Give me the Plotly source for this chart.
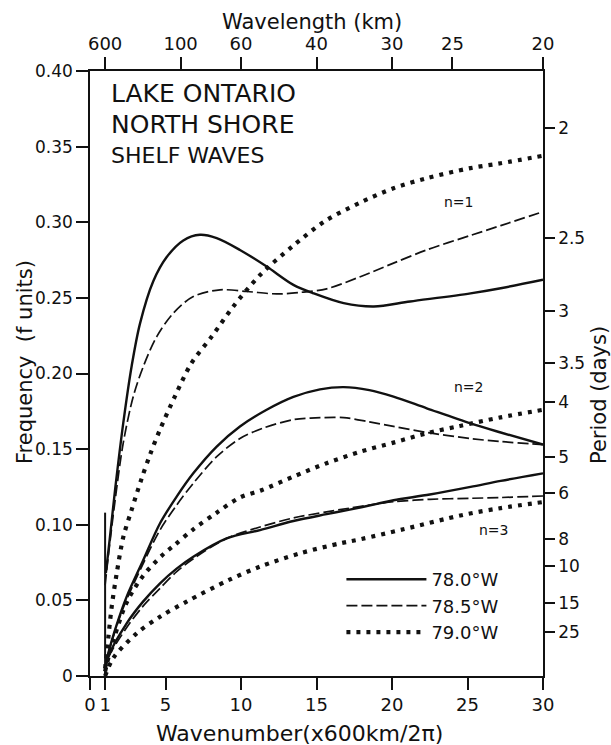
import plotly.graph_objects as go

# ---- dispersion curves: wavenumber (x600 km / 2pi) vs frequency (f units) ----
# mode n = 1
k_n1_780 = [1.05, 1.3, 1.66, 2.2, 2.76, 3.31, 4.19, 5.08, 6.18, 7.28, 8.39, 9.93, 11.7, 13.47, 14.8, 16.8, 18.8, 21.2, 25.2, 27.2, 30]
f_n1_780 = [0.068, 0.09, 0.123, 0.167, 0.205, 0.233, 0.261, 0.277, 0.288, 0.2917, 0.2895, 0.2817, 0.2707, 0.2586, 0.2530, 0.2465, 0.2443, 0.2476, 0.2530, 0.2564, 0.262]
k_n1_785 = [1.0, 1.21, 1.66, 2.2, 2.87, 3.53, 4.42, 5.52, 6.84, 8.61, 10.4, 12.36, 13.9, 15.67, 17.9, 20.1, 22.3, 25.2, 27.2, 30]
f_n1_785 = [0.06, 0.079, 0.116, 0.154, 0.185, 0.2046, 0.2244, 0.2399, 0.2509, 0.2553, 0.2542, 0.2526, 0.2536, 0.2560, 0.264, 0.273, 0.2817, 0.2913, 0.2978, 0.307]
k_n1_790 = [1.0, 1.21, 1.44, 1.77, 2.21, 2.76, 3.4, 4.0, 4.64, 5.63, 6.73, 8.06, 9.49, 11.3, 13.4, 15.6, 17.9, 20.1, 22.3, 25.2, 27.2, 30]
f_n1_790 = [0.005, 0.025, 0.046, 0.068, 0.092, 0.110, 0.130, 0.147, 0.163, 0.185, 0.207, 0.2244, 0.2443, 0.2655, 0.284, 0.301, 0.313, 0.3225, 0.3291, 0.3358, 0.339, 0.344]

# mode n = 2
k_n2_780 = [1.0, 1.21, 1.77, 2.43, 3.53, 4.64, 5.74, 6.84, 8.39, 9.93, 11.7, 13.47, 15.23, 16.8, 18.5, 20.1, 22.3, 25.2, 27.2, 30]
f_n2_780 = [0.005, 0.015, 0.034, 0.0525, 0.0767, 0.101, 0.1186, 0.134, 0.1517, 0.165, 0.176, 0.1845, 0.1895, 0.191, 0.189, 0.1847, 0.177, 0.167, 0.161, 0.153]
k_n2_785 = [1.0, 1.21, 2.2, 3.53, 4.64, 5.74, 6.84, 8.39, 9.93, 11.5, 13.47, 14.6, 16.8, 18.5, 20.1, 22.3, 25.2, 27.2, 30]
f_n2_785 = [0.005, 0.015, 0.045, 0.0745, 0.0966, 0.113, 0.1274, 0.145, 0.157, 0.164, 0.1695, 0.1705, 0.1708, 0.168, 0.165, 0.161, 0.157, 0.155, 0.153]
k_n2_790 = [1.0, 1.3, 2.4, 3.5, 4.8, 5.6, 6.84, 8.39, 9.93, 11.4, 13.46, 15.67, 17.9, 20.1, 22.3, 24.5, 27.2, 30]
f_n2_790 = [0.003, 0.015, 0.048, 0.066, 0.080, 0.0866, 0.097, 0.108, 0.118, 0.123, 0.1318, 0.1407, 0.1483, 0.1543, 0.1605, 0.1653, 0.171, 0.176]

# mode n = 3
k_n3_780 = [1.0, 1.21, 2.43, 3.5, 4.64, 5.74, 6.84, 9.05, 11.26, 13.47, 15.67, 17.2, 19.0, 20.1, 22.5, 25.2, 27.2, 30]
f_n3_780 = [0.003, 0.0128, 0.0348, 0.049, 0.0613, 0.071, 0.0789, 0.091, 0.0965, 0.1025, 0.107, 0.110, 0.1138, 0.1162, 0.120, 0.125, 0.129, 0.134]
k_n3_785 = [1.0, 1.21, 2.43, 3.5, 4.64, 5.74, 6.84, 9.05, 11.26, 13.47, 15.67, 17.2, 19.0, 20.1, 22.5, 25.2, 27.2, 30]
f_n3_785 = [0.003, 0.012, 0.032, 0.046, 0.058, 0.069, 0.0775, 0.091, 0.0985, 0.1045, 0.1085, 0.111, 0.1138, 0.1152, 0.1168, 0.1175, 0.118, 0.119]
k_n3_790 = [1.0, 1.55, 3.09, 4.64, 6.4, 9.2, 11.26, 13.9, 16.56, 17.9, 20.75, 24.7, 27.2, 30]
f_n3_790 = [0.0, 0.012, 0.0282, 0.0392, 0.0492, 0.0635, 0.0723, 0.0811, 0.0877, 0.0904, 0.097, 0.1065, 0.111, 0.115]

# short vertical segment at the first wavenumber
k_stub = [1.0, 1.0]
f_stub = [0.0, 0.108]

# axis ticks
x_ticks = [0, 1, 5, 10, 15, 20, 25, 30]
y_ticks = [0, 0.05, 0.10, 0.15, 0.20, 0.25, 0.30, 0.35, 0.40]
y_tick_text = ["0", "0.05", "0.10", "0.15", "0.20", "0.25", "0.30", "0.35", "0.40"]
wavelength_km = [600, 100, 60, 40, 30, 25, 20]
period_days = [2, 2.5, 3, 3.5, 4, 5, 6, 8, 10, 15, 25]
INERTIAL_PERIOD_DAYS = 0.7243  # 2*pi/f at Lake Ontario latitude

series_labels = ["78.0\u00b0W", "78.5\u00b0W", "79.0\u00b0W"]
mode_labels = ["n=1", "n=2", "n=3"]

FONT = "DejaVu Sans, Verdana, sans-serif"
INK = "#111111"

styles = [
    dict(color=INK, width=2.4, dash="solid"),
    dict(color=INK, width=1.7, dash="11px,4px"),
    dict(color=INK, width=4.2, dash="4px,6px"),
]

curves = [
    [(k_n1_780, f_n1_780), (k_n1_785, f_n1_785), (k_n1_790, f_n1_790)],
    [(k_n2_780, f_n2_780), (k_n2_785, f_n2_785), (k_n2_790, f_n2_790)],
    [(k_n3_780, f_n3_780), (k_n3_785, f_n3_785), (k_n3_790, f_n3_790)],
]

fig = go.Figure()

for mode_idx, mode_curves in enumerate(curves):
    for s_idx, (kk, ff) in enumerate(mode_curves):
        fig.add_trace(go.Scatter(
            x=kk, y=ff, mode="lines",
            line=dict(shape="spline", smoothing=0.9, **styles[s_idx]),
            name=series_labels[s_idx],
            legendgroup=series_labels[s_idx],
            showlegend=(mode_idx == 0),
            hoverinfo="skip",
        ))

fig.add_trace(go.Scatter(x=k_stub, y=f_stub, mode="lines",
                         line=dict(color=INK, width=2.0),
                         showlegend=False, hoverinfo="skip"))

# secondary axes (wavelength on top, period on the right)
fig.add_trace(go.Scatter(x=[0, 30], y=[0, 0.4], xaxis="x2", yaxis="y2",
                         mode="markers", marker=dict(opacity=0),
                         showlegend=False, hoverinfo="skip"))

axis_common = dict(showgrid=False, zeroline=False, showline=True, linecolor=INK,
                   linewidth=1.5, ticks="outside", tickcolor=INK, tickwidth=1.5,
                   ticklen=12)

fig.update_layout(
    width=611, height=745,
    margin=dict(l=90, r=68, t=71, b=69),
    paper_bgcolor="white", plot_bgcolor="white",
    font=dict(family=FONT, color=INK),
    xaxis=dict(range=[0, 30], tickvals=x_ticks, ticktext=[str(v) for v in x_ticks],
               tickfont=dict(size=18), **axis_common),
    yaxis=dict(range=[0, 0.40], tickvals=y_ticks, ticktext=y_tick_text,
               tickfont=dict(size=17), **axis_common),
    xaxis2=dict(range=[0, 30], overlaying="x", side="top", anchor="y",
                tickvals=[600.0 / w for w in wavelength_km],
                ticktext=[str(w) for w in wavelength_km],
                tickfont=dict(size=18), **axis_common),
    yaxis2=dict(range=[0, 0.40], overlaying="y", side="right", anchor="x",
                tickvals=[INERTIAL_PERIOD_DAYS / p for p in period_days],
                ticktext=[str(p) for p in period_days],
                tickfont=dict(size=17), **{**axis_common, "ticklen": 10}),
    showlegend=True,
    legend=dict(x=0.555, y=0.19, xanchor="left", yanchor="top",
                bgcolor="rgba(0,0,0,0)", borderwidth=0,
                font=dict(size=18, family=FONT), itemwidth=80,
                tracegroupgap=0),
)

# axis titles and panel text, positioned in pixels of the 611x745 page
plot_w = 611 - 90 - 68
plot_h = 745 - 71 - 69


def px_to_paper(px, py):
    return (px - 90) / plot_w, (676 - py) / plot_h


def add_text(text, px, py, size, xanchor="center", angle=0):
    x, y = px_to_paper(px, py)
    fig.add_annotation(text=text, x=x, y=y, xref="paper", yref="paper",
                       showarrow=False, xanchor=xanchor, yanchor="middle",
                       textangle=angle, font=dict(size=size, family=FONT, color=INK))


add_text("Wavelength (km)", 312, 22, 21)
add_text("Wavenumber(x600km/2\u03c0)", 299, 733, 22)
add_text("Frequency  (f units)", 25, 362, 21, angle=-90)
add_text("Period (days)", 599, 395, 21, angle=-90)

add_text("LAKE ONTARIO", 109, 94, 25, xanchor="left")
add_text("NORTH SHORE", 109, 125, 25, xanchor="left")
add_text("SHELF WAVES", 109, 155, 22, xanchor="left")

mode_label_pos = [(23.3, 0.3135), (24.0, 0.191), (25.6, 0.0966)]
for label, (kx, fy) in zip(mode_labels, mode_label_pos):
    fig.add_annotation(text=label, x=kx, y=fy, xref="x", yref="y", showarrow=False,
                       xanchor="left", yanchor="middle",
                       font=dict(size=14, family=FONT, color=INK))

fig.write_html("out.html")
